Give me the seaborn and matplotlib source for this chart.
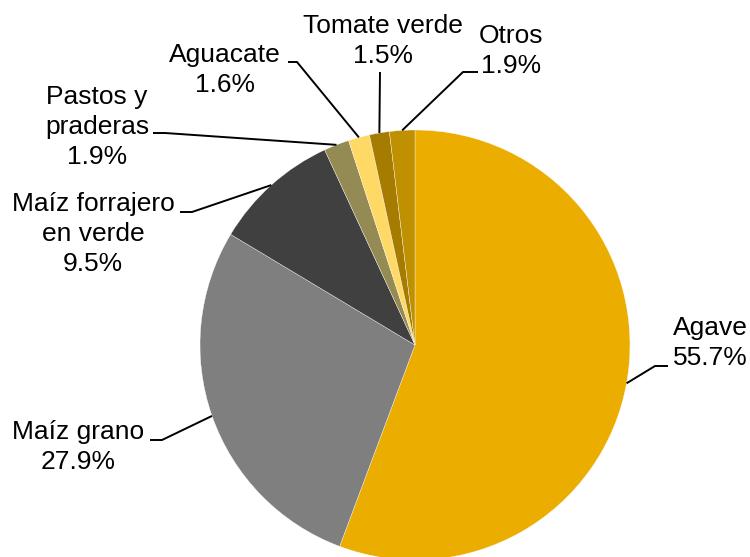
import numpy as np
import matplotlib
matplotlib.use("Agg")
import matplotlib.pyplot as plt
import seaborn as sns

# --------------------------------------------------
# Data
# --------------------------------------------------

cultivos = [
    "Agave",
    "Maíz grano",
    "Maíz forrajero\nen verde",
    "Pastos y\npraderas",
    "Aguacate",
    "Tomate verde",
    "Otros",
]
porcentajes = [55.7, 27.9, 9.5, 1.9, 1.6, 1.5, 1.9]
colores = ["#EBAD00", "#7F7F7F", "#404040", "#948A54", "#FFD966", "#A67C00", "#BF9000"]

# label layout in pixel coordinates (y measured from the top)
pos_texto = [(710, 343), (78, 447), (93, 234), (97, 127), (225, 70), (383, 41), (511, 51)]
codo = [(655, 366), (162, 440), (192, 212), (165, 133), (297, 62), (380, 72), (463, 72)]
fin = [(668, 366), (150, 440), (180, 212), (153, 133), (288, 62), (380, 72), (478, 72)]

W, H = 750, 557
centro = (415, H - 345)
radio = 215

# --------------------------------------------------
# Plot
# --------------------------------------------------

sns.set_theme(style="white")
plt.rcParams["font.family"] = ["Liberation Sans", "DejaVu Sans"]

fig = plt.figure(figsize=(W / 100, H / 100), dpi=100)
ax = fig.add_axes([0, 0, 1, 1])

wedges, _ = ax.pie(
    porcentajes,
    colors=colores,
    startangle=90,
    counterclock=False,
    center=centro,
    radius=radio,
    wedgeprops=dict(edgecolor="white", linewidth=0.25),
)
ax.set_xlim(0, W)
ax.set_ylim(0, H)
ax.axis("off")

for w, nombre, pct, (tx, ty), (cx, cy), (fx, fy) in zip(
    wedges, cultivos, porcentajes, pos_texto, codo, fin
):
    ang = np.deg2rad((w.theta1 + w.theta2) / 2)
    ex = centro[0] + radio * np.cos(ang)
    ey = centro[1] + radio * np.sin(ang)
    ax.plot([ex, cx, fx], [ey, H - cy, H - fy], color="black", lw=1.4,
            solid_capstyle="butt")
    ax.text(tx, H - ty, f"{nombre}\n{pct:.1f}%", ha="center", va="center",
            multialignment="center", fontsize=19, color="black", linespacing=1.3)

fig.savefig("out.png", dpi=100)
